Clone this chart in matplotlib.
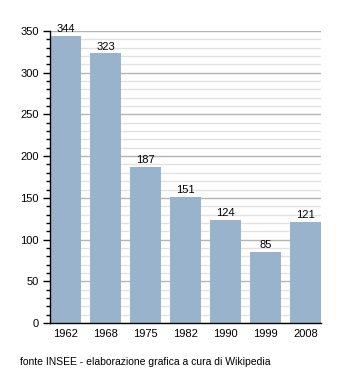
import matplotlib
matplotlib.use("Agg")
import matplotlib.pyplot as plt
from matplotlib.ticker import MultipleLocator

plt.rcParams["font.family"] = ["Liberation Sans", "DejaVu Sans"]

anni = ["1962", "1968", "1975", "1982", "1990", "1999", "2008"]
abitanti = [344, 323, 187, 151, 124, 85, 121]

fig = plt.figure(figsize=(3.5, 3.73), dpi=100)
ax = fig.add_axes([0.143, 0.134, 0.774, 0.783])

pos = range(len(anni))
larg = 0.775
ax.bar(pos, abitanti, width=larg, color="#9ab3cc", zorder=3)
for x, v in zip(pos, abitanti):
    ax.text(x, v + 2, str(v), ha="center", va="bottom", fontsize=8, zorder=4)

ax.set_xlim(-larg / 2, len(anni) - 1 + larg / 2)
ax.set_ylim(0, 350)
ax.yaxis.set_major_locator(MultipleLocator(50))
ax.yaxis.set_minor_locator(MultipleLocator(10))
ax.grid(which="major", axis="y", color="#b4b4b4", linewidth=1, zorder=1)
ax.grid(which="minor", axis="y", color="#e2e2e2", linewidth=1, zorder=0)

ax.set_xticks(list(pos))
ax.set_xticklabels(anni)
ax.tick_params(axis="x", length=0, labelsize=8, pad=4)
ax.tick_params(axis="y", which="major", length=5, width=1, labelsize=8, pad=3)
ax.tick_params(axis="y", which="minor", length=3, width=1)

for s in ["top", "right"]:
    ax.spines[s].set_visible(False)
ax.spines["left"].set_linewidth(1)
ax.spines["bottom"].set_linewidth(1)
ax.spines["left"].set_zorder(5)
ax.spines["bottom"].set_zorder(5)

fig.text(20 / 350, 1 - 362 / 373, "fonte INSEE - elaborazione grafica a cura di Wikipedia",
         fontsize=7.5, va="center", ha="left")

fig.savefig("out.png", dpi=100)
